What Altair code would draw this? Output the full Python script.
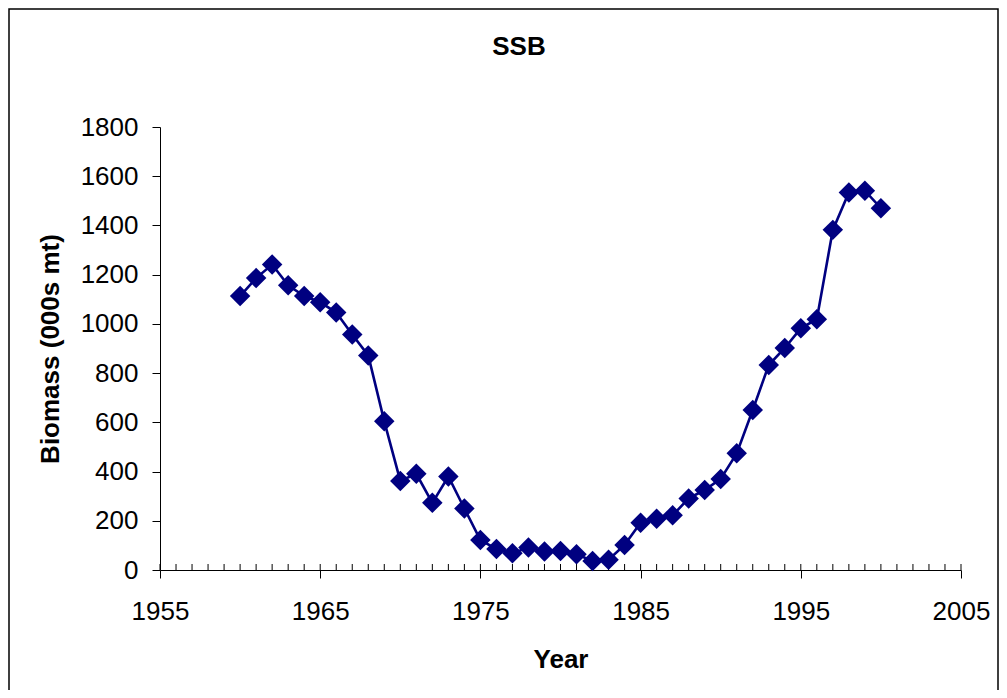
import altair as alt
import pandas as pd

years = list(range(1960, 2001))
ssb = [1113, 1186, 1241, 1157, 1113, 1088, 1046, 957, 872, 604,
       362, 391, 273, 380, 250, 122, 85, 68, 91, 75,
       77, 64, 37, 42, 102, 192, 208, 222, 291, 325,
       370, 474, 650, 833, 902, 982, 1019, 1382, 1534, 1541,
       1470]
x_ticks = [1955, 1965, 1975, 1985, 1995, 2005]
y_ticks = [0, 200, 400, 600, 800, 1000, 1200, 1400, 1600, 1800]
minor_years = list(range(1955, 2006))

FONT = "Liberation Sans"
NAVY = "#000080"

df = pd.DataFrame({"Year": years, "SSB": ssb})
minor = pd.DataFrame({"Year": minor_years})
one = pd.DataFrame({"t": ["SSB"]})

xscale = alt.Scale(domain=[1955, 2005], nice=False, zero=False)
yscale = alt.Scale(domain=[0, 1800], nice=False)

xaxis = alt.Axis(values=x_ticks, format="d", title="Year", grid=False,
                 tickSize=8, labelPadding=20, labelFontSize=26, labelFont=FONT,
                 labelColor="black", titleFont=FONT, titleFontSize=26,
                 titleFontWeight="bold", titleColor="black",
                 titleBaseline="alphabetic", titleY=97,
                 domainColor="black", tickColor="black", labelFlush=False)
yaxis = alt.Axis(values=y_ticks, format="d", title="Biomass (000s mt)", grid=False,
                 tickSize=8, labelPadding=14, labelFontSize=26, labelFont=FONT,
                 labelColor="black", titleFont=FONT, titleFontSize=26,
                 titleFontWeight="bold", titleColor="black",
                 titleBaseline="alphabetic", titleX=-102,
                 domainColor="black", tickColor="black", labelFlush=False)

line = alt.Chart(df).mark_line(color=NAVY, strokeWidth=2.6).encode(
    x=alt.X("Year:Q", scale=xscale, axis=xaxis),
    y=alt.Y("SSB:Q", scale=yscale, axis=yaxis),
)
points = alt.Chart(df).mark_point(shape="diamond", filled=True, size=420,
                                   color=NAVY, opacity=1).encode(
    x=alt.X("Year:Q", scale=xscale),
    y=alt.Y("SSB:Q", scale=yscale),
)
minor_ticks = alt.Chart(minor).mark_rule(color="black", strokeWidth=1).encode(
    x=alt.X("Year:Q", scale=xscale),
    y=alt.value(443),
    y2=alt.value(437),
)
title = alt.Chart(one).mark_text(font=FONT, fontSize=26, fontWeight="bold",
                                 color="black", baseline="alphabetic",
                                 align="center").encode(
    text="t:N", x=alt.value(359), y=alt.value(-72)
)
border = alt.Chart(one).mark_rect(fill="white", fillOpacity=0, stroke="black",
                                  strokeWidth=1.5).encode(
    x=alt.value(-151), x2=alt.value(838), y=alt.value(-118), y2=alt.value(700)
)

chart = alt.layer(border, minor_ticks, line, points, title).properties(
    width=801, height=443,
    autosize=alt.AutoSizeParams(type="none"),
    padding={"left": 152, "top": 119, "right": 38, "bottom": 120},
).configure(background="white").configure_view(stroke="transparent", strokeWidth=0)

chart.save("out.html", embed_options={"renderer": "svg", "actions": False})
